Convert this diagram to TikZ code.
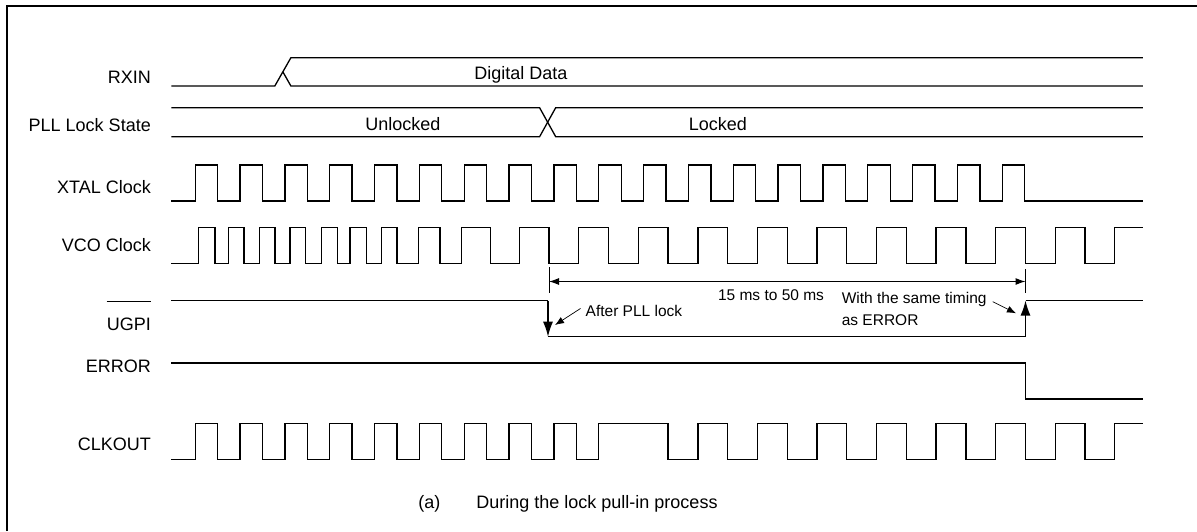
\documentclass[tikz,border=0pt]{standalone}
\usepackage{fontspec}
\setmainfont{Liberation Sans}
\usetikzlibrary{arrows.meta}

\begin{document}
\begin{tikzpicture}[x=1pt, y=-1pt,
      wave/.style={line width=1.3pt, line join=miter},
      signame/.style={anchor=base east, inner sep=0pt, font=\fontsize{18}{21.6}\selectfont},
      busname/.style={anchor=base, inner sep=0pt, font=\fontsize{18}{21.6}\selectfont},
      note/.style={anchor=base west, inner sep=0pt, font=\fontsize{15.5}{20}\selectfont},
      edgehead/.style={-{Latex[length=15pt, width=10pt]}},
      pointer/.style={line width=0.7pt, -{Latex[length=9pt, width=7pt]}},
      dimline/.style={line width=1pt, {Latex[length=10pt, width=7pt]}-{Latex[length=10pt, width=7pt]}}]
      \useasboundingbox (0, 0) rectangle (1197, 531);
      \draw[line width=2pt] (7, 531) -- (7, 6) -- (1197, 6);

      \node[signame](rxin) at (151, 83.3){RXIN};
      \node[signame](pll) at (151, 131.7){PLL Lock State};
      \node[signame](xtal) at (151, 193.3){XTAL Clock};
      \node[signame](vco) at (151, 251.7){VCO Clock};
      \node[signame](ugpi) at (151, 330.7){UGPI};
      \node[signame](error) at (151, 372.7){ERROR};
      \node[signame](clkout) at (151, 450){CLKOUT};
      \draw[line width=1pt] (ugpi.west |- 0, 301) -- (ugpi.east |- 0, 301);

      \node[busname](data) at (521, 79.3){Digital Data};
      \node[busname](unlocked) at (402.8, 130){Unlocked};
      \node[busname](locked) at (717.8, 130){Locked};

      \draw[wave] (171.4, 86) -- (274.8, 86) -- (290.9, 57.7) -- (1142.8, 57.7);
      \draw[wave] (282.9, 71.9) -- (290.9, 86) -- (1142.8, 86);
      \draw[wave] (171.4, 107.7) -- (539.6, 107.7) -- (555.7, 136.7) -- (1142.8, 136.7);
      \draw[wave] (171.4, 136.7) -- (539.6, 136.7) -- (555.7, 107.7) -- (1142.8, 107.7);

      \draw[wave] (171.4, 201) \foreach \k in {0,...,18}{
        -- ({195.2+44.84*\k}, 201) -- ++(0, -36) -- ++(22.42, 0) -- ++(0, 36)} -- (1142.8, 201);

      \draw[wave] (171.4, 263.3) \foreach \r/\f in {198.3/215, 228.3/244, 259.3/275, 290/305.7,
        321.7/337.7, 350/366.7, 381.7/397, 418.3/440, 461.7/490.7}{
        -- (\r, 263.3) -- (\r, 227.5) -- (\f, 227.5) -- (\f, 263.3)}
        \foreach \k in {0,...,9}{
        -- ({519.2+59.56*\k}, 263.3) -- ++(0, -35.8) -- ++(29.78, 0) -- ++(0, 35.8)}
        -- (1114.8, 263.3) -- (1114.8, 227.5) -- (1142.8, 227.5);

      \coordinate (spanstart) at (549, 281.5);
      \coordinate (spanend) at (1025.5, 281.5);
      \draw[line width=1pt] (549, 267) -- (549, 293);
      \draw[line width=1pt] (1025.5, 269) -- (1025.5, 293);
      \draw[dimline] (spanstart) -- (spanend);
      \node[note, anchor=base](span) at (771, 300){15 ms to 50 ms};

      \draw[wave] (171.4, 300.5) -- (548, 300.5);
      \draw[wave, edgehead] (548, 300.5) -- (548, 336.7);
      \draw[wave] (548, 336.7) -- (1025.5, 336.7);
      \draw[wave, edgehead] (1025.5, 336.7) -- (1025.5, 300.5);
      \draw[wave] (1025.5, 300.5) -- (1142.8, 300.5);

      \node[note](afterlock) at (585.5, 316){After PLL lock};
      \node[note](timing) at (841.6, 303.3){With the same timing};
      \node[note](timingerr) at (841.6, 325){as ERROR};
      \coordinate (fallmark) at (555, 325);
      \coordinate (risemark) at (1016, 313.3);
      \draw[pointer] ([shift={(-5, -2)}]afterlock.west) -- (fallmark);
      \draw[pointer] ([shift={(6, 2.4)}]timing.east) -- (risemark);

      \draw[wave] (171.4, 363) -- (1025.5, 363) -- (1025.5, 399) -- (1142.8, 399);

      \draw[wave] (171.4, 459.3) \foreach \k in {0,...,8}{
        -- ({195.2+44.84*\k}, 459.3) -- ++(0, -36) -- ++(22.42, 0) -- ++(0, 36)}
        -- (598.8, 459.3) -- (598.8, 423.3) -- (668.1, 423.3) -- (668.1, 459.3)
        \foreach \k in {3,...,9}{
        -- ({519.2+59.56*\k}, 459.3) -- ++(0, -36) -- ++(29.78, 0) -- ++(0, 36)}
        -- (1114.8, 459.3) -- (1114.8, 423.3) -- (1142.8, 423.3);

      \node[busname](caption) at (568, 508){(a)\hspace{36pt}During the lock pull-in process};
    \end{tikzpicture}
\end{document}
